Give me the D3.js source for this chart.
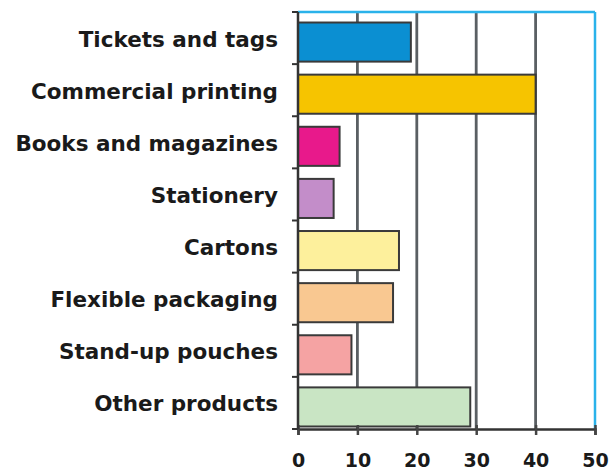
<!DOCTYPE html>
<html><head><meta charset="utf-8">
<script src="https://cdn.jsdelivr.net/npm/d3@7"></script>
<style>body{margin:0;background:#fff}svg{display:block}</style>
</head><body>
<svg id="c" width="613" height="473"></svg>
<script>
const categories = ["Tickets and tags","Commercial printing","Books and magazines","Stationery","Cartons","Flexible packaging","Stand-up pouches","Other products"];
const values = [19, 40, 7, 6, 17, 16, 9, 29];
const colors = ["#0b8fd2","#f6c400","#e8198b","#c38dc9","#fdf09c","#f9c891","#f5a3a3","#c9e5c4"];
const xTicks = [0,10,20,30,40,50];

const svg = d3.select("#c");
const m = {left:298, right:595, top:12, bottom:429};
const FONT = "DejaVu Sans, Verdana, sans-serif";
const x = d3.scaleLinear().domain([0,50]).range([m.left, m.right]);
const y = d3.scaleBand().domain(categories).range([m.top + 4, m.bottom + 4]).paddingInner(0.25).paddingOuter(0.125);
const yb = d3.scaleLinear().domain([0, categories.length]).range([m.top, m.bottom]);

// gridlines
svg.append("g").selectAll("line").data(xTicks.filter(d=>d>0 && d<50)).join("line")
  .attr("x1", d=>x(d)).attr("x2", d=>x(d)).attr("y1", m.top).attr("y2", m.bottom)
  .attr("stroke", "#5a5f63").attr("stroke-width", 2.8);
// blue frame
svg.append("line").attr("x1", x(50)).attr("x2", x(50)).attr("y1", m.top).attr("y2", m.bottom)
  .attr("stroke", "#2ab2ea").attr("stroke-width", 2.5);
svg.append("line").attr("x1", m.left).attr("x2", x(50)).attr("y1", m.top).attr("y2", m.top)
  .attr("stroke", "#2ab2ea").attr("stroke-width", 2.5);

// bars
svg.append("g").selectAll("rect").data(categories).join("rect")
  .attr("x", x(0)).attr("y", d=>y(d))
  .attr("width", (d,i)=>x(values[i])-x(0)).attr("height", y.bandwidth())
  .attr("fill", (d,i)=>colors[i]).attr("stroke", "#3a3a3a").attr("stroke-width", 2);

// x axis
const xa = svg.append("g").attr("transform", `translate(0,${m.bottom})`)
  .call(d3.axisBottom(x).tickValues(xTicks).tickSize(6).tickPadding(19));
xa.select(".domain").attr("stroke", "#333").attr("stroke-width", 2.5);
xa.selectAll(".tick line").attr("stroke", "#444").attr("stroke-width", 2.5).attr("y1", -4);
xa.selectAll(".tick text").attr("font-family", FONT)
  .attr("font-weight", "bold").attr("font-size", 19).attr("fill", "#1a1a1a");

// y axis line + boundary ticks
svg.append("line").attr("x1", m.left).attr("x2", m.left).attr("y1", m.top).attr("y2", m.bottom)
  .attr("stroke", "#333").attr("stroke-width", 2.5);
svg.append("g").selectAll("line").data(d3.range(categories.length+1)).join("line")
  .attr("x1", m.left-6).attr("x2", m.left).attr("y1", d=>yb(d)).attr("y2", d=>yb(d))
  .attr("stroke", "#333").attr("stroke-width", 2);

// category labels
svg.append("g").selectAll("text").data(categories).join("text")
  .attr("x", 278).attr("y", (d,i)=>yb(i+0.5)+1).attr("dy", "0.35em")
  .attr("text-anchor", "end")
  .attr("font-family", FONT).attr("font-weight", "bold")
  .attr("font-size", 21.5).attr("fill", "#1a1a1a").text(d=>d);
</script>
</body></html>
